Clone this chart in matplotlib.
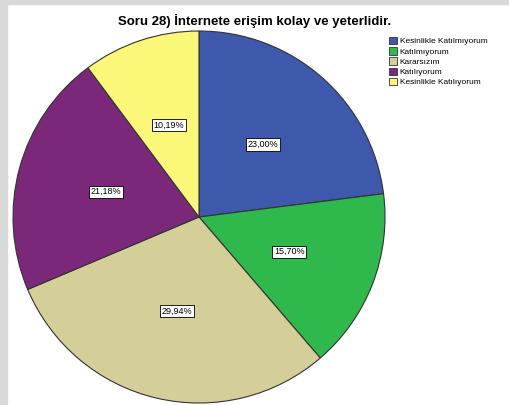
import matplotlib
matplotlib.use("Agg")
import matplotlib.pyplot as plt
from matplotlib.patches import Rectangle

title = "Soru 28) İnternete erişim kolay ve yeterlidir."
categories = ["Kesinlikle Katılmıyorum", "Katılmıyorum", "Kararsızım", "Katılıyorum", "Kesinlikle Katılıyorum"]
values = [23.00, 15.70, 29.94, 21.18, 10.19]
colors = ["#3e58ac", "#2fb84b", "#d4cf99", "#7b287b", "#fbf879"]

plt.rcParams['font.family'] = ['Liberation Sans', 'DejaVu Sans']

W, H = 509, 405
fig = plt.figure(figsize=(W/100, H/100), dpi=100)
fig.patch.set_facecolor("white")
# gray frame
fig.patches.append(Rectangle((0, 0), 7/W, 1, transform=fig.transFigure, color="#d9d9d9", zorder=0))
fig.patches.append(Rectangle((0, 1-4/H), 1, 4/H, transform=fig.transFigure, color="#d9d9d9", zorder=0))

cx, cy, r = 199, 217, 186
ax = fig.add_axes([(cx - r)/W, (H - cy - r)/H, 2*r/W, 2*r/H])
wedges, texts = ax.pie(values, colors=colors, startangle=90, counterclock=False,
                       wedgeprops=dict(edgecolor="#333333", linewidth=0.8),
                       labels=[f"{v:.2f}%".replace(".", ",") for v in values],
                       labeldistance=0.52)
for t in texts:
    t.set_ha("center"); t.set_va("center")
    t.set_fontsize(6.5)
    t.set_bbox(dict(facecolor="white", edgecolor="black", linewidth=0.6, pad=1.2))
ax.set_aspect("equal")
ax.set_xlim(-1, 1); ax.set_ylim(-1, 1)
ax.axis("off")

fig.text(255/W, 1 - 21/H, title, ha="center", va="center", fontsize=9.5, fontweight="bold")

leg = fig.legend(wedges, categories, loc="upper left", bbox_to_anchor=(383/W, 1 - 31/H),
                 frameon=False, fontsize=6, handlelength=1.0, handleheight=1.0,
                 handletextpad=0.3, labelspacing=0.2, borderpad=0.2)
for h in leg.legend_handles:
    h.set_linewidth(0.6)

fig.savefig("out.png", dpi=100)
